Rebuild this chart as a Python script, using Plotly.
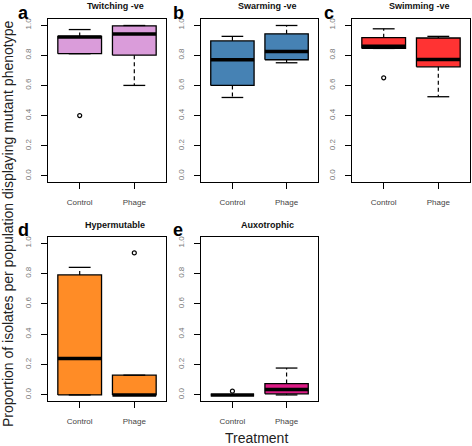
import plotly.graph_objects as go

# ---------------- data ----------------
panel_letters = ["a", "b", "c", "d", "e"]
panel_titles = ["Twitching -ve", "Swarming -ve", "Swimming -ve", "Hypermutable", "Auxotrophic"]
panel_colors = ["#DA9CDA", "#4682B4", "#FF3333", "#FF8C26", "#DC1C86"]
groups = ["Control", "Phage"]

# Control statistics per panel (a..e)
ctrl_lower = [0.81, 0.52, 0.845, 0.0, 0.0]
ctrl_q1 = [0.81, 0.60, 0.845, 0.0, 0.0]
ctrl_median = [0.92, 0.77, 0.86, 0.24, 0.0]
ctrl_q3 = [0.924, 0.895, 0.916, 0.79, 0.0]
ctrl_upper = [0.97, 0.925, 0.975, 0.84, 0.0]
ctrl_outliers = [[0.40], [], [0.65], [], [0.025]]

# Phage statistics per panel (a..e)
phage_lower = [0.60, 0.75, 0.525, 0.0, 0.0]
phage_q1 = [0.80, 0.77, 0.723, 0.0, 0.007]
phage_median = [0.94, 0.825, 0.772, 0.0, 0.035]
phage_q3 = [0.995, 0.942, 0.914, 0.13, 0.075]
phage_upper = [0.997, 0.997, 0.925, 0.13, 0.177]
phage_outliers = [[], [], [], [0.935], []]

y_ticks = [0.0, 0.2, 0.4, 0.6, 0.8, 1.0]
y_title = "Proportion of isolates per population displaying mutant phenotype"
x_title = "Treatment"

# ---------------- layout geometry ----------------
W, H = 472, 446
col_px = [(48, 166), (201, 318), (352, 470)]
row_px = [(19, 182), (237, 401)]
panel_cell = [(0, 0), (1, 0), (2, 0), (0, 1), (1, 1)]
letter_pos = [(23, 1), (178, 1), (329, 1), (23, 218), (178, 218)]
title_dx = 8

def fx(x):
    return x / W

def fy(y):
    return 1 - y / H

FONT = "Liberation Sans, Arial, sans-serif"
fig = go.Figure()
layout_axes = {}
annotations = []

stats = [
    (ctrl_lower, ctrl_q1, ctrl_median, ctrl_q3, ctrl_upper, ctrl_outliers),
    (phage_lower, phage_q1, phage_median, phage_q3, phage_upper, phage_outliers),
]

half_box = 0.4
half_cap = 0.2

for i in range(5):
    c, r = panel_cell[i]
    x0, x1 = col_px[c]
    y0, y1 = row_px[r]
    sfx = "" if i == 0 else str(i + 1)
    xa, ya = "x" + sfx, "y" + sfx
    layout_axes["xaxis" + sfx] = dict(
        domain=[fx(x0), fx(x1)], anchor=ya, range=[0.42, 2.58],
        tickmode="array", tickvals=[1, 2], ticktext=groups,
        ticks="outside", ticklen=6, tickcolor="black", tickwidth=1,
        ticklabelstandoff=6,
        showline=True, mirror=True, linecolor="black", linewidth=1,
        showgrid=False, zeroline=False, fixedrange=True,
        tickfont=dict(size=8, color="#444444", family=FONT),
    )
    layout_axes["yaxis" + sfx] = dict(
        domain=[fy(y1), fy(y0)], anchor=xa, range=[-0.04, 1.04],
        tickmode="array", tickvals=y_ticks, ticktext=[f"{v:.1f}" for v in y_ticks],
        ticks="outside", ticklen=6, tickcolor="black", tickwidth=1, tickangle=-90,
        ticklabelstandoff=7,
        showline=True, mirror=True, linecolor="black", linewidth=1,
        showgrid=False, zeroline=False, fixedrange=True,
        tickfont=dict(size=8, color="#777777", family=FONT),
    )
    for g in range(2):
        lo, q1, med, q3, up, outl = stats[g]
        cx = g + 1
        # box
        fig.add_trace(go.Scatter(
            x=[cx - half_box, cx + half_box, cx + half_box, cx - half_box, cx - half_box],
            y=[q1[i], q1[i], q3[i], q3[i], q1[i]],
            xaxis=xa, yaxis=ya, mode="lines", fill="toself",
            fillcolor=panel_colors[i], line=dict(color="black", width=1.3),
            showlegend=False, hoverinfo="skip"))
        # whiskers (dashed)
        fig.add_trace(go.Scatter(
            x=[cx, cx, None, cx, cx],
            y=[q3[i], up[i], None, q1[i], lo[i]],
            xaxis=xa, yaxis=ya, mode="lines",
            line=dict(color="black", width=1.2, dash="4px,3px"),
            showlegend=False, hoverinfo="skip"))
        # staples
        fig.add_trace(go.Scatter(
            x=[cx - half_cap, cx + half_cap, None, cx - half_cap, cx + half_cap],
            y=[up[i], up[i], None, lo[i], lo[i]],
            xaxis=xa, yaxis=ya, mode="lines",
            line=dict(color="black", width=1.3),
            showlegend=False, hoverinfo="skip"))
        # median
        fig.add_trace(go.Scatter(
            x=[cx - half_box, cx + half_box], y=[med[i], med[i]],
            xaxis=xa, yaxis=ya, mode="lines",
            line=dict(color="black", width=3.5),
            showlegend=False, hoverinfo="skip"))
        # outliers
        if outl[i]:
            fig.add_trace(go.Scatter(
                x=[cx] * len(outl[i]), y=outl[i],
                xaxis=xa, yaxis=ya, mode="markers",
                marker=dict(symbol="circle-open", size=4, color="black",
                            line=dict(width=1.2, color="black")),
                showlegend=False, hoverinfo="skip"))
    # panel title
    annotations.append(dict(
        x=fx((x0 + x1) / 2 + title_dx), y=fy(6 if r == 0 else 225),
        xref="paper", yref="paper", text="<b>" + panel_titles[i] + "</b>",
        showarrow=False, xanchor="center", yanchor="middle",
        font=dict(size=9, color="#111111", family=FONT)))
    # panel letter
    lx, ly = letter_pos[i]
    annotations.append(dict(
        x=fx(lx), y=fy(ly), xref="paper", yref="paper",
        text="<b>" + panel_letters[i] + "</b>", showarrow=False,
        xanchor="center", yanchor="top",
        font=dict(size=18, color="black", family=FONT)))

annotations.append(dict(
    x=fx(8), y=fy(224), xref="paper", yref="paper", text=y_title,
    showarrow=False, textangle=-90, xanchor="center", yanchor="middle",
    font=dict(size=14, color="#222222", family=FONT)))
annotations.append(dict(
    x=fx(256), y=fy(438), xref="paper", yref="paper", text=x_title,
    showarrow=False, xanchor="center", yanchor="middle",
    font=dict(size=14, color="#222222", family=FONT)))

fig.update_layout(
    width=W, height=H, margin=dict(l=0, r=0, t=0, b=0),
    paper_bgcolor="white", plot_bgcolor="white",
    annotations=annotations, showlegend=False,
    **layout_axes)

fig.write_html(
    "out.html",
    config=dict(displayModeBar=False),
    post_script="document.body.style.margin='0px';document.body.style.overflow='hidden';",
)
